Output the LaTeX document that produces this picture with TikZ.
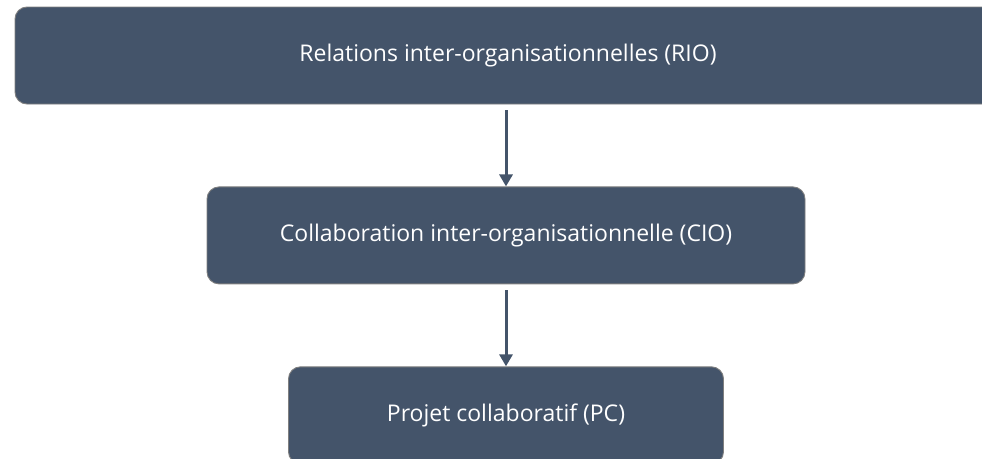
\documentclass[tikz,border=0pt]{standalone}
\usepackage{fontspec}
\setmainfont{Open Sans}
\usepackage{tikz}
\usetikzlibrary{positioning,arrows.meta}

\definecolor{boxblue}{HTML}{44546A}
\definecolor{boxedge}{HTML}{7F7F7F}

\begin{document}
\begin{tikzpicture}[x=1pt,y=-1pt,
every node/.style={fill=boxblue,draw=boxedge,line width=0.9pt,rounded corners=12pt,
  text=white,font=\fontsize{23}{27}\selectfont,minimum height=97pt,inner sep=0pt},
node distance=82pt,
link/.style={boxblue,line width=3pt,shorten <=6pt,-{Triangle[width=13pt,length=12pt]}}]
\clip (0,0) rectangle (982,458);
\node[minimum width=981pt] (rio) at (505.5,55.5) {\hspace{5pt}Relations inter-organisationnelles (RIO)};
\node[minimum width=598pt,below=of rio.south,xshift=0.5pt] (cio) {Collaboration inter-organisationnelle (CIO)};
\node[minimum width=435pt,below=of cio.south] (pc) {Projet collaboratif (PC)};
\draw[link] (rio.south -| cio.north) -- (cio.north);
\draw[link] (cio.south) -- (pc.north);
\end{tikzpicture}
\end{document}
